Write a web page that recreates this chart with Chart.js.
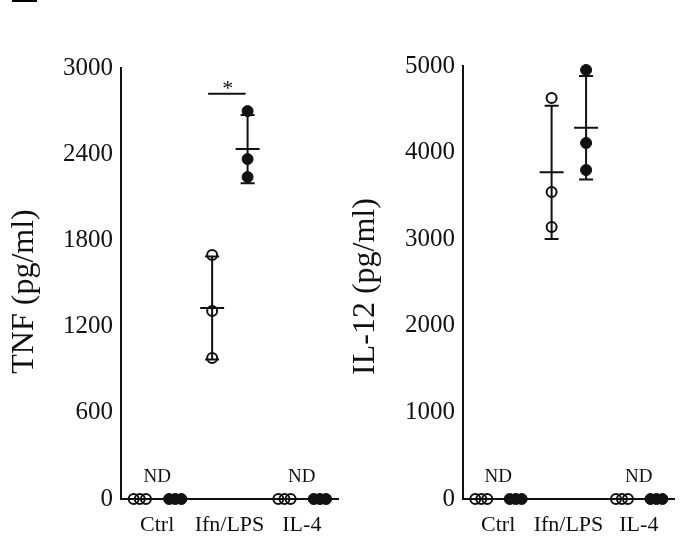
<!DOCTYPE html>
<html>
<head>
<meta charset="utf-8">
<script src="https://cdn.jsdelivr.net/npm/chart.js@4"></script>
<style>
  html, body { margin: 0; padding: 0; background: #fff; }
  #wrap { position: relative; width: 681px; height: 548px; overflow: hidden; }
  canvas { position: absolute; top: 0; }
  #tnf  { left: 0; }
  #il12 { left: 345px; }
  .panel-mark { position: absolute; left: 12px; top: 0; width: 25px; height: 2px; background: #000; }
</style>
</head>
<body>
<div id="wrap">
  <div class="panel-mark"></div>
  <canvas id="tnf" width="345" height="548"></canvas>
  <canvas id="il12" width="336" height="548"></canvas>
</div>
<script>
// groups on the x axis; ND = not detected
const groups   = ['Ctrl', 'Ifn/LPS', 'IL-4'];
const ndGroups = [0, 2];

// three replicates per group, open = first cell type, filled = second
const tnfOpen    = [[0, 0, 0], [1698, 1309, 981],  [0, 0, 0]];
const tnfFilled  = [[0, 0, 0], [2700, 2366, 2241], [0, 0, 0]];
const il12Open   = [[0, 0, 0], [4630, 3545, 3141], [0, 0, 0]];
const il12Filled = [[0, 0, 0], [4954, 4111, 3799], [0, 0, 0]];

const tnfTicks  = [0, 600, 1200, 1800, 2400, 3000];
const il12Ticks = [0, 1000, 2000, 3000, 4000, 5000];

// significance bracket between the two Ifn/LPS TNF groups
const tnfSigLevel = 2820;

const openShift   = -0.24;
const filledShift = 0.25;
const ndJitter    = [-0.085, 0, 0.085];

const FONT = 'Liberation Serif';
const INK  = '#111';

function toPoints(values, shift) {
  const pts = [];
  values.forEach((vals, g) => {
    vals.forEach((v, i) => {
      const j = ndGroups.includes(g) ? ndJitter[i] : 0;
      pts.push({ x: g + 0.5 + shift + j, y: v });
    });
  });
  return pts;
}

function meanSd(vals) {
  const m  = vals.reduce((a, b) => a + b, 0) / vals.length;
  const sd = Math.sqrt(vals.reduce((a, b) => a + (b - m) ** 2, 0) / (vals.length - 1));
  return { m, sd };
}

// mean +/- SD bars, ND labels, significance bracket and the y title
const dotPlotExtras = {
  id: 'dotPlotExtras',
  afterDatasetsDraw(chart, args, opts) {
    const { ctx, chartArea, scales: { x, y } } = chart;
    ctx.save();
    ctx.strokeStyle = INK;
    ctx.lineWidth = 2;

    opts.bars.forEach(b => {
      const { m, sd } = meanSd(b.vals);
      const px  = x.getPixelForValue(b.x);
      const top = y.getPixelForValue(m + sd);
      const bot = y.getPixelForValue(m - sd);
      const mid = y.getPixelForValue(m);
      ctx.beginPath();
      ctx.moveTo(px, top);      ctx.lineTo(px, bot);
      ctx.moveTo(px - 7, top);  ctx.lineTo(px + 7, top);
      ctx.moveTo(px - 7, bot);  ctx.lineTo(px + 7, bot);
      ctx.moveTo(px - 12, mid); ctx.lineTo(px + 12, mid);
      ctx.stroke();
    });

    ctx.fillStyle = INK;
    ctx.textAlign = 'center';
    ctx.textBaseline = 'alphabetic';
    ctx.font = `19px "${FONT}"`;
    const zeroY = y.getPixelForValue(0);
    ndGroups.forEach(g => ctx.fillText('ND', x.getPixelForValue(g + 0.5), zeroY - 17));

    if (opts.sig) {
      const x1 = x.getPixelForValue(opts.sig.from);
      const x2 = x.getPixelForValue(opts.sig.to);
      const sy = y.getPixelForValue(opts.sig.level);
      ctx.beginPath();
      ctx.moveTo(x1 - 4, sy); ctx.lineTo(x2 - 2, sy);
      ctx.stroke();
      ctx.font = `22px "${FONT}"`;
      ctx.fillText('*', (x1 + x2) / 2 - 2, sy + 1);
    }

    // rotated y-axis title, a little below the plot's middle
    ctx.font = `32px "${FONT}"`;
    ctx.textBaseline = 'middle';
    ctx.translate(opts.titleX, (chartArea.top + chartArea.bottom) / 2 + opts.titleDrop);
    ctx.rotate(-Math.PI / 2);
    ctx.fillText(opts.title, 0, 0);
    ctx.restore();
  }
};

function makePanel(id, title, open, filled, ticks, cfg) {
  return new Chart(document.getElementById(id), {
    type: 'scatter',
    data: {
      datasets: [
        {
          data: toPoints(open, openShift),
          pointRadius: 5, pointHoverRadius: 5, borderWidth: 2,
          borderColor: INK, backgroundColor: 'rgba(0,0,0,0)', clip: false
        },
        {
          data: toPoints(filled, filledShift),
          pointRadius: 5.5, pointHoverRadius: 5.5, borderWidth: 1,
          borderColor: INK, backgroundColor: INK, clip: false
        }
      ]
    },
    options: {
      responsive: false,
      animation: false,
      events: [],
      layout: { padding: { top: cfg.top, right: cfg.right, left: 0, bottom: 0 } },
      plugins: {
        legend:  { display: false },
        tooltip: { enabled: false },
        dotPlotExtras: {
          bars: [
            { x: 1.5 + openShift,   vals: open[1] },
            { x: 1.5 + filledShift, vals: filled[1] }
          ],
          sig: cfg.sig,
          title: title,
          titleX: cfg.titleX,
          titleDrop: cfg.titleDrop
        }
      },
      scales: {
        x: {
          type: 'linear', min: 0, max: 3,
          grid:   { display: false, drawTicks: false },
          border: { color: INK, width: 2 },
          afterBuildTicks: s => { s.ticks = groups.map((_, i) => ({ value: i + 0.5 })); },
          ticks: {
            padding: 13, color: INK, autoSkip: false, maxRotation: 0,
            font: { family: FONT, size: 22 },
            callback: (v, i) => groups[i]
          },
          afterFit: s => { s.height = 49; }
        },
        y: {
          min: 0, max: ticks[ticks.length - 1],
          grid:   { display: false, drawTicks: false },
          border: { color: INK, width: 2 },
          afterBuildTicks: s => { s.ticks = ticks.map(v => ({ value: v })); },
          ticks: {
            padding: 8, color: INK, font: { family: FONT, size: 25 },
            callback: v => String(v)
          },
          afterFit: s => { s.width = cfg.left; }
        }
      }
    },
    plugins: [dotPlotExtras]
  });
}

makePanel('tnf', 'TNF (pg/ml)', tnfOpen, tnfFilled, tnfTicks, {
  left: 121, top: 68, right: 7, titleX: 25, titleDrop: 8,
  sig: { from: 1.5 + openShift, to: 1.5 + filledShift, level: tnfSigLevel }
});

makePanel('il12', 'IL-12 (pg/ml)', il12Open, il12Filled, il12Ticks, {
  left: 118, top: 66, right: 3, titleX: 21, titleDrop: 4
});
</script>
</body>
</html>
